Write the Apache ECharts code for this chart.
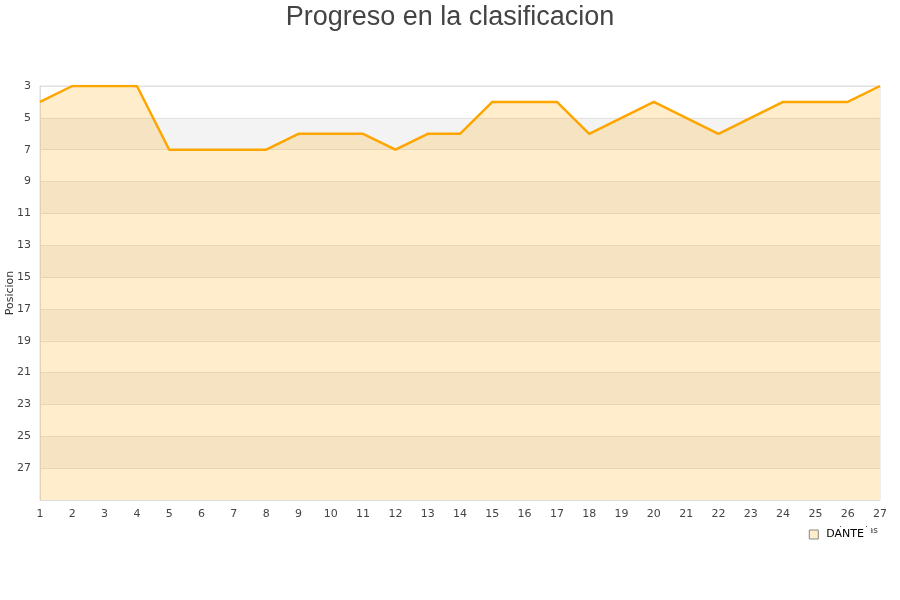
<!DOCTYPE html>
<html>
<head>
<meta charset="utf-8">
<script src="https://cdn.jsdelivr.net/npm/echarts@6/dist/echarts.min.js"></script>
<style>html,body{margin:0;padding:0;background:#fff}#c{width:900px;height:600px}</style>
</head>
<body>
<div id="c"></div>
<script>
var jornadas = ['1','2','3','4','5','6','7','8','9','10','11','12','13','14','15','16','17','18','19','20','21','22','23','24','25','26','27'];
var posiciones = [4,3,3,3,7,7,7,7,6,6,6,7,6,6,4,4,4,6,5,4,5,6,5,4,4,4,3];
var seriesName = 'DANTE';
var titleText = 'Progreso en la clasificacion';
var xName = 'Jornadas';
var yName = 'Posicion';

var chart = echarts.init(document.getElementById('c'));
chart.setOption({
  animation: false,
  title: {
    text: titleText, left: 'center', top: -1,
    textStyle: {fontFamily: 'Liberation Sans', fontSize: 27, fontWeight: 'normal', color: '#444'}
  },
  legend: {
    right: 29, top: 527, itemWidth: 9, itemHeight: 9, itemGap: 5,
    backgroundColor: '#fff', padding: [2, 7, 3, 4],
    icon: 'rect',
    textStyle: {fontFamily: 'DejaVu Sans', fontSize: 11, color: '#000', padding: [0, 0, 0, 3]},
    data: [{name: seriesName, itemStyle: {color: '#ffedcc', borderColor: '#888', borderWidth: 1}}]
  },
  grid: {left: 40, right: 20, top: 86, bottom: 100, containLabel: false, outerBoundsMode: 'none', show: true, borderColor: '#ddd', borderWidth: 1, backgroundColor: 'transparent'},
  xAxis: {
    type: 'category', data: jornadas, boundaryGap: false,
    name: xName, nameLocation: 'end', nameGap: 0, nameMoveOverlap: false,
    nameTextStyle: {fontFamily: 'DejaVu Sans', fontSize: 9, color: '#333', align: 'right', verticalAlign: 'top', padding: [26, 2, 0, 0]},
    axisLine: {show: true, lineStyle: {color: '#ddd'}},
    axisTick: {show: false},
    axisLabel: {fontFamily: 'DejaVu Sans', fontSize: 11, color: '#444', margin: 9, interval: 0},
    splitLine: {show: false}
  },
  yAxis: {
    type: 'value', inverse: true, min: 3, max: 29, interval: 2,
    name: yName, nameLocation: 'middle', nameGap: 24, nameRotate: 90, nameMoveOverlap: false,
    nameTextStyle: {fontFamily: 'DejaVu Sans', fontSize: 11, color: '#333'},
    axisLine: {show: true, lineStyle: {color: '#ddd'}},
    axisTick: {show: false},
    axisLabel: {fontFamily: 'DejaVu Sans', fontSize: 11, color: '#444', margin: 9, showMaxLabel: false},
    splitLine: {show: true, lineStyle: {color: '#e2e2e2', width: 1}},
    splitArea: {show: true, areaStyle: {color: ['#ffffff', '#f3f3f3'], opacity: 1}}
  },
  series: [{
    name: seriesName, type: 'line', data: posiciones,
    showSymbol: false, symbol: 'none',
    lineStyle: {color: '#ffa500', width: 2.5},
    itemStyle: {color: '#ffa500'},
    areaStyle: {color: '#ffa500', opacity: 0.2, origin: 'end'}
  }]
});
</script>
</body>
</html>
